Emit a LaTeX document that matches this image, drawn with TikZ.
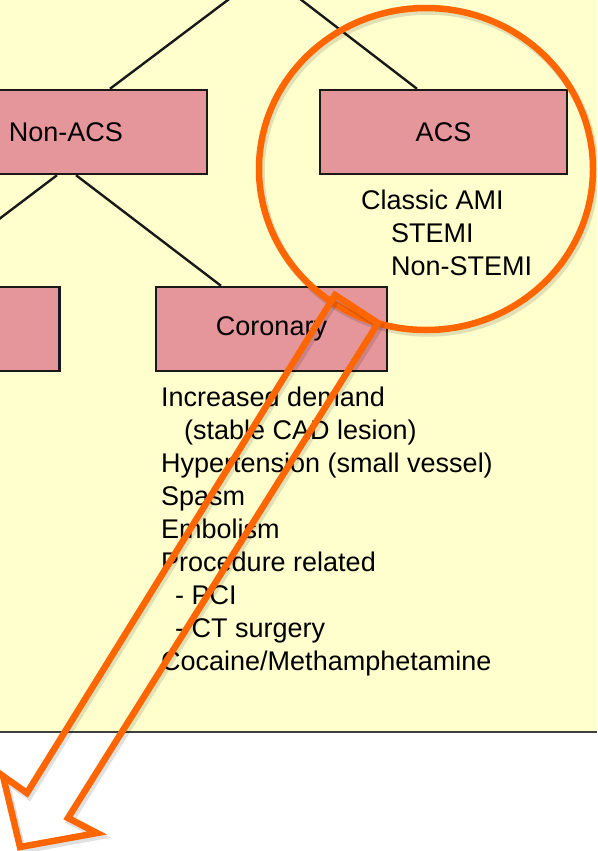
\documentclass[tikz,border=0pt]{standalone}
\usepackage{fontspec}
\setmainfont{Liberation Sans}
\usepackage{tikz}
\definecolor{chartbg}{RGB}{255,255,206}
\definecolor{boxpink}{RGB}{229,150,154}
\definecolor{callout}{RGB}{255,102,0}

\begin{document}
\begin{tikzpicture}[x=1pt, y=-1pt,
  every node/.style={font=\fontsize{27}{33}\selectfont},
  box/.style={draw=black!90, line width=2.4pt, fill=boxpink, minimum height=84pt, inner sep=0pt},
  link/.style={draw=black!90, line width=2.4pt},
  list/.style={anchor=north west, align=left, inner sep=0pt},
  callout line/.style={draw=callout, line width=6.5pt, line join=miter},
  callout shade/.style={draw=black, opacity=0.12, line width=7.5pt, line join=miter, shift={(2,3)}}]
  \useasboundingbox (0,0) rectangle (597,851);
  \clip (0,0) rectangle (597,851);
  \fill[chartbg] (0,0) rectangle (597,732);
  \draw[black!75, line width=2.5pt] (0,732) -- (597,732);

  \node[box, minimum width=282pt] (nonacs) at (66,132) {Non-ACS};
  \node[box, minimum width=247pt] (acs) at (443.5,132) {ACS};
  \node[box, minimum width=231pt] (other) at (-56,329) {};
  \node[box, minimum width=231pt] (coronary) at (271.5,329) {Coronary};
  \coordinate (root) at (265,-28);

  \draw[link] (root) -- ([xshift=44pt]nonacs.north);
  \draw[link] (root) -- ([xshift=-26.5pt]acs.north);
  \draw[link] ([xshift=-9pt]nonacs.south) -- ([xshift=-33pt]other.north);
  \draw[link] ([xshift=10pt]nonacs.south) -- ([xshift=-50.5pt]coronary.north);

  \node[list] (acsnote) at (361,190) {Classic AMI\\\hspace*{30pt}STEMI\\\hspace*{30pt}Non-STEMI};
  \node[list] (coronarynote) at (161,387) {Increased demand\\
    \hspace*{23pt}(stable CAD lesion)\\
    Hypertension (small vessel)\\
    Spasm\\
    Embolism\\
    Procedure related\\
    \hspace*{14pt}- PCI\\
    \hspace*{14pt}- CT surgery\\
    Cocaine/Methamphetamine};

  \draw[callout shade] (426,169) ellipse [x radius=167pt, y radius=161pt];
  \draw[callout line] (426,169) ellipse [x radius=167pt, y radius=161pt];
  \draw[callout shade] (335,295) -- (27,793) -- (3,776) -- (20,847) -- (97,833) -- (68,818) -- (378,323) -- cycle;
  \draw[callout line] (335,295) -- (27,793) -- (3,776) -- (20,847) -- (97,833) -- (68,818) -- (378,323) -- cycle;
\end{tikzpicture}
\end{document}
